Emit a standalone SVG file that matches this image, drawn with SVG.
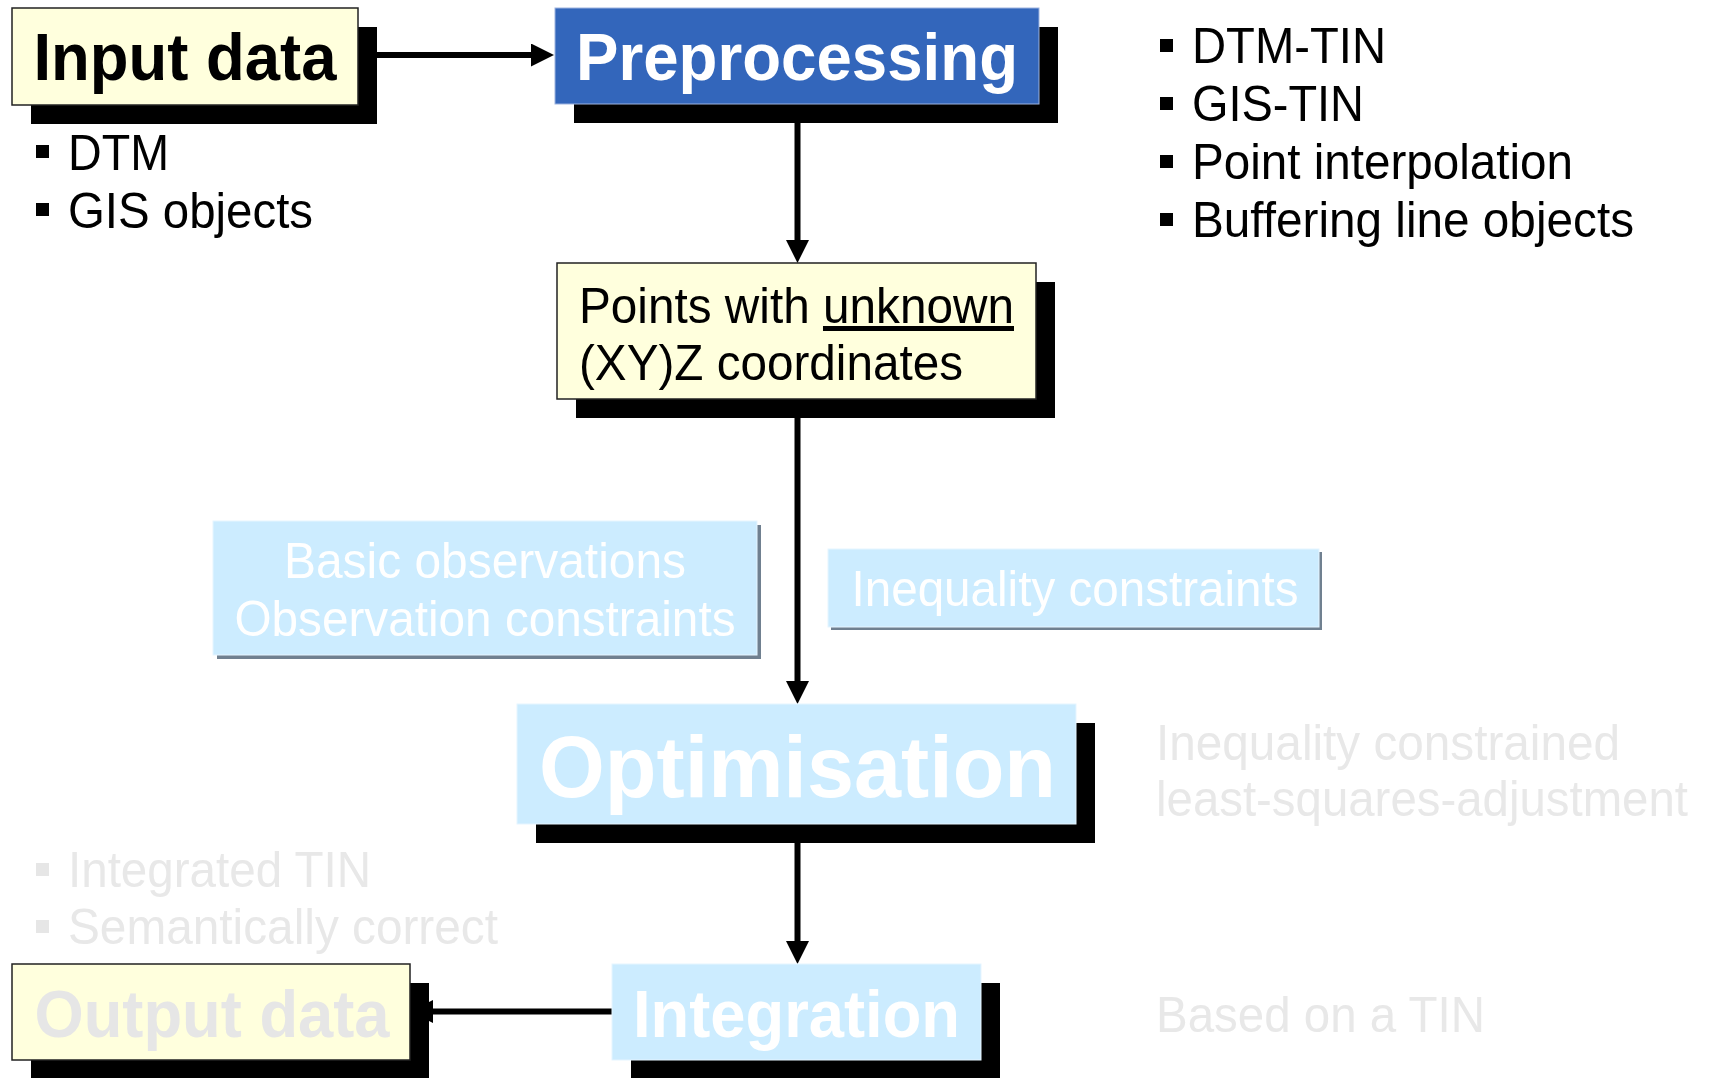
<svg xmlns="http://www.w3.org/2000/svg" width="1711" height="1078" viewBox="0 0 1711 1078">
  <style>
    text { font-family: "Liberation Sans", Arial, sans-serif; }
    .body { font-size: 50px; fill: #000000; }
    .ghost { font-size: 50px; fill: #E8E8E8; }
    .white { font-size: 50px; fill: #FFFFFF; }
    .title { font-size: 66px; font-weight: bold; }
    .shadow { fill: #000000; }
    .lshadow { fill: #708090; }
    .yellow { fill: #FFFFDD; stroke: #222222; stroke-width: 1.5; }
    .blue { fill: #3366BB; stroke: #9DB3DF; stroke-width: 1; }
    .lblue { fill: #CCECFF; stroke: #E6F5FF; stroke-width: 1; }
    .conn { stroke: #000000; stroke-width: 6; fill: none; }
    .bul { fill: #000000; }
    .gbul { fill: #E6E6E6; }
  </style>
  <defs>
    <marker id="arrow" viewBox="0 0 23 23" refX="12" refY="11.5" markerWidth="23" markerHeight="23" markerUnits="userSpaceOnUse" orient="auto">
      <path d="M0,0 L23,11.5 L0,23 Z" fill="#000000"/>
    </marker>
  </defs>

  <rect width="1711" height="1078" fill="#FFFFFF"/>

  <g id="connectors">
    <path class="conn" d="M358,55 H543" marker-end="url(#arrow)"/>
    <path class="conn" d="M797.5,104 V252" marker-end="url(#arrow)"/>
    <path class="conn" d="M797.5,399 V693" marker-end="url(#arrow)"/>
    <path class="conn" d="M797.5,824 V953" marker-end="url(#arrow)"/>
    <path class="conn" d="M612,1011.5 H421" marker-end="url(#arrow)"/>
  </g>

  <g id="input-data">
    <rect class="shadow" x="31" y="27" width="346" height="97"/>
    <rect class="yellow" x="12" y="8" width="346" height="97"/>
    <text class="title" x="185" y="80" text-anchor="middle" textLength="303" lengthAdjust="spacingAndGlyphs" fill="#000000">Input data</text>
  </g>

  <g id="input-bullets">
    <rect class="bul" x="36" y="145" width="13" height="13"/>
    <text class="body" x="68" y="170" textLength="101" lengthAdjust="spacingAndGlyphs">DTM</text>
    <rect class="bul" x="36" y="203" width="13" height="13"/>
    <text class="body" x="68" y="228" textLength="245" lengthAdjust="spacingAndGlyphs">GIS objects</text>
  </g>

  <g id="preprocessing">
    <rect class="shadow" x="574" y="27" width="484" height="96"/>
    <rect class="blue" x="555" y="8" width="484" height="96"/>
    <text class="title" x="797" y="80" text-anchor="middle" textLength="442" lengthAdjust="spacingAndGlyphs" fill="#FFFFFF">Preprocessing</text>
  </g>

  <g id="preprocessing-bullets">
    <rect class="bul" x="1160" y="39" width="13" height="13"/>
    <text class="body" x="1192" y="63" textLength="194" lengthAdjust="spacingAndGlyphs">DTM-TIN</text>
    <rect class="bul" x="1160" y="97" width="13" height="13"/>
    <text class="body" x="1192" y="121" textLength="172" lengthAdjust="spacingAndGlyphs">GIS-TIN</text>
    <rect class="bul" x="1160" y="155" width="13" height="13"/>
    <text class="body" x="1192" y="179" textLength="381" lengthAdjust="spacingAndGlyphs">Point interpolation</text>
    <rect class="bul" x="1160" y="213" width="13" height="13"/>
    <text class="body" x="1192" y="237" textLength="442" lengthAdjust="spacingAndGlyphs">Buffering line objects</text>
  </g>

  <g id="points">
    <rect class="shadow" x="576" y="282" width="479" height="136"/>
    <rect class="yellow" x="557" y="263" width="479" height="136"/>
    <text class="body" x="579" y="323" textLength="435" lengthAdjust="spacingAndGlyphs">Points with <tspan text-decoration="underline">unknown</tspan></text>
    <text class="body" x="579" y="380" textLength="384" lengthAdjust="spacingAndGlyphs">(XY)Z coordinates</text>
  </g>

  <g id="basic-observations">
    <rect class="lshadow" x="217" y="525" width="544" height="134"/>
    <rect class="lblue" x="213" y="521" width="544" height="134"/>
    <text class="white" x="485" y="578" text-anchor="middle" textLength="402" lengthAdjust="spacingAndGlyphs">Basic observations</text>
    <text class="white" x="485" y="636" text-anchor="middle" textLength="501" lengthAdjust="spacingAndGlyphs">Observation constraints</text>
  </g>

  <g id="inequality-constraints">
    <rect class="lshadow" x="831" y="552" width="491" height="78"/>
    <rect class="lblue" x="828" y="549" width="491" height="78"/>
    <text class="white" x="1075" y="606" text-anchor="middle" textLength="447" lengthAdjust="spacingAndGlyphs">Inequality constraints</text>
  </g>

  <g id="optimisation">
    <rect class="shadow" x="536" y="723" width="559" height="120"/>
    <rect class="lblue" x="517" y="704" width="559" height="120"/>
    <text x="797.5" y="797" text-anchor="middle" textLength="517" lengthAdjust="spacingAndGlyphs" font-size="88" font-weight="bold" fill="#FFFFFF">Optimisation</text>
  </g>

  <g id="optimisation-note">
    <text class="ghost" x="1156" y="760" textLength="464" lengthAdjust="spacingAndGlyphs">Inequality constrained</text>
    <text class="ghost" x="1156" y="816" textLength="532" lengthAdjust="spacingAndGlyphs">least-squares-adjustment</text>
  </g>

  <g id="output-bullets">
    <rect class="gbul" x="36" y="863" width="13" height="13"/>
    <text class="ghost" x="68" y="887" textLength="303" lengthAdjust="spacingAndGlyphs">Integrated TIN</text>
    <rect class="gbul" x="36" y="920" width="13" height="13"/>
    <text class="ghost" x="68" y="944" textLength="430" lengthAdjust="spacingAndGlyphs">Semantically correct</text>
  </g>

  <g id="output-data">
    <rect class="shadow" x="31" y="983" width="398" height="96"/>
    <rect class="yellow" x="12" y="964" width="398" height="96"/>
    <text class="title" x="212" y="1037" text-anchor="middle" textLength="355" lengthAdjust="spacingAndGlyphs" fill="#E6E6E6">Output data</text>
  </g>

  <g id="integration">
    <rect class="shadow" x="631" y="983" width="369" height="96"/>
    <rect class="lblue" x="612" y="964" width="369" height="96"/>
    <text class="title" x="796.5" y="1037" text-anchor="middle" textLength="327" lengthAdjust="spacingAndGlyphs" fill="#FFFFFF">Integration</text>
  </g>

  <g id="integration-note">
    <text class="ghost" x="1156" y="1032" textLength="329" lengthAdjust="spacingAndGlyphs">Based on a TIN</text>
  </g>
</svg>
